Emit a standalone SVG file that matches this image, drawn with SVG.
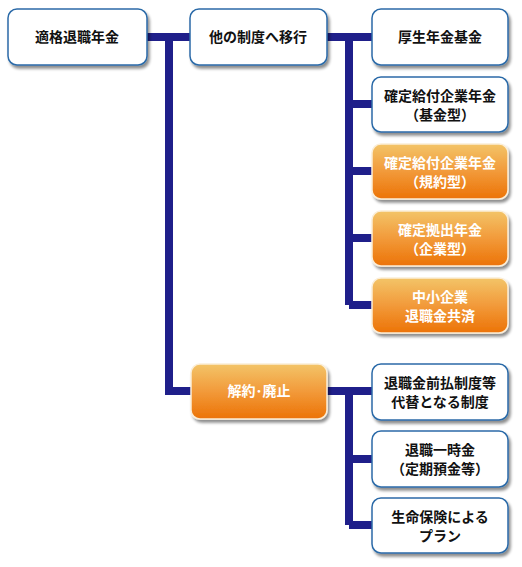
<svg xmlns="http://www.w3.org/2000/svg" width="522" height="567" viewBox="0 0 522 567">
<defs>
<linearGradient id="og" x1="0" y1="0" x2="0" y2="1">
<stop offset="0" stop-color="#f3c468"/>
<stop offset="0.5" stop-color="#f29a3a"/>
<stop offset="1" stop-color="#ec7306"/>
</linearGradient>
<filter id="sh" x="-10%" y="-10%" width="125%" height="135%">
<feGaussianBlur in="SourceAlpha" stdDeviation="1.5"/>
<feOffset dx="2" dy="3" result="b"/>
<feComponentTransfer><feFuncA type="linear" slope="0.45"/></feComponentTransfer>
<feMerge><feMergeNode/><feMergeNode in="SourceGraphic"/></feMerge>
</filter>
</defs>
<style>
.w{fill:#fff;stroke:#2b6aa8;stroke-width:1.5;filter:url(#sh)}
.o{fill:url(#og);stroke:#fbeed8;stroke-width:1.5;filter:url(#sh)}
text{font-family:"Noto Sans CJK JP",sans-serif;font-size:14px;font-weight:bold;text-anchor:middle}
.tw{fill:#111}
.to{fill:#fff}
.c{stroke:#1f1f8a;stroke-width:8;fill:none}
</style>
<g id="connectors">
<path class="c" d="M147 37H190M169 37V391H191"/>
<path class="c" d="M327 37H372M349 37V305M349 104H372M349 171H372M349 238H372M349 305H372"/>
<path class="c" d="M327 391H372M349 391V525M349 459H372M349 525H372"/>
</g>
<g id="n1"><rect class="w" x="8" y="9" width="139" height="56" rx="9"/><text class="tw" x="77" y="42">適格退職年金</text></g>
<g id="n2"><rect class="w" x="190" y="9" width="137" height="56" rx="9"/><text class="tw" x="258" y="42">他の制度へ移行</text></g>
<g id="n3"><rect class="w" x="372" y="9" width="136" height="56" rx="9"/><text class="tw" x="440" y="42">厚生年金基金</text></g>
<g id="n4"><rect class="w" x="372" y="77" width="136" height="55" rx="9"/><text class="tw" x="440" y="101">確定給付企業年金</text><text class="tw" x="440" y="120">（基金型）</text></g>
<g id="n5"><rect class="o" x="372" y="144" width="136" height="55" rx="9"/><text class="to" x="440" y="168">確定給付企業年金</text><text class="to" x="440" y="187">（規約型）</text></g>
<g id="n6"><rect class="o" x="372" y="211" width="136" height="55" rx="9"/><text class="to" x="440" y="235">確定拠出年金</text><text class="to" x="440" y="254">（企業型）</text></g>
<g id="n7"><rect class="o" x="372" y="278" width="136" height="55" rx="9"/><text class="to" x="440" y="302">中小企業</text><text class="to" x="440" y="321">退職金共済</text></g>
<g id="n8"><rect class="o" x="191" y="364" width="136" height="55" rx="9"/><text class="to" x="259" y="396">解約･廃止</text></g>
<g id="n9"><rect class="w" x="372" y="364" width="136" height="56" rx="9"/><text class="tw" x="440" y="388">退職金前払制度等</text><text class="tw" x="440" y="407">代替となる制度</text></g>
<g id="n10"><rect class="w" x="372" y="431" width="136" height="56" rx="9"/><text class="tw" x="440" y="455">退職一時金</text><text class="tw" x="440" y="474">（定期預金等）</text></g>
<g id="n11"><rect class="w" x="372" y="498" width="136" height="55" rx="9"/><text class="tw" x="440" y="522">生命保険による</text><text class="tw" x="440" y="541">プラン</text></g>
</svg>
